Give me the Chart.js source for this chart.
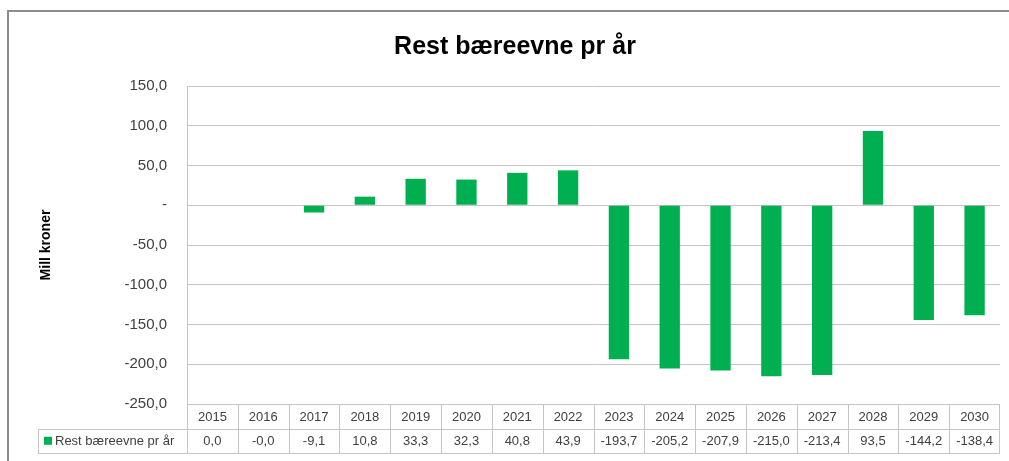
<!DOCTYPE html>
<html>
<head>
<meta charset="utf-8">
<title>Rest bæreevne pr år</title>
<script src="https://cdn.jsdelivr.net/npm/chart.js@4/dist/chart.umd.min.js"></script>
<style>
  html, body { margin: 0; padding: 0; background: #fff; }
  #wrap { width: 1009px; height: 461px; }
</style>
</head>
<body>
<div id="wrap"><canvas id="chart" width="1009" height="461"></canvas></div>
<script>
/* ---------- data ---------- */
const years = ['2015', '2016', '2017', '2018', '2019', '2020', '2021', '2022',
               '2023', '2024', '2025', '2026', '2027', '2028', '2029', '2030'];
const restValues = [0.0, -0.0, -9.1, 10.8, 33.3, 32.3, 40.8, 43.9,
                    -193.7, -205.2, -207.9, -215.0, -213.4, 93.5, -144.2, -138.4];
const seriesName = 'Rest bæreevne pr år';
const yMin = -250, yMax = 150, yStep = 50;

const GREEN = '#00B050';
const GRID = '#c6c6c6';
const TEXT = '#404040';
const FONT = "'Liberation Sans', Arial, sans-serif";

function fmt(v) {
  if (Math.abs(v) < 0.05) return (Object.is(v, -0) ? '-0,0' : '0,0');
  return v.toFixed(1).replace('.', ',');
}

// white background + outer frame
const frame = {
  id: 'frame',
  beforeDraw(chart) {
    const c = chart.ctx;
    c.save();
    c.fillStyle = '#fff';
    c.fillRect(0, 0, chart.width, chart.height);
    c.strokeStyle = '#8c8c8c';
    c.lineWidth = 2;
    c.beginPath();
    c.moveTo(8, chart.height);
    c.lineTo(8, 11);
    c.lineTo(chart.width, 11);
    c.stroke();
    c.restore();
  }
};

// data table under the plot area
const dataTable = {
  id: 'dataTable',
  afterDraw(chart) {
    const c = chart.ctx;
    const x = chart.scales.x;
    const area = chart.chartArea;
    const rowH = 24.5;
    const top = area.bottom;
    const mid = top + rowH;
    const bot = mid + rowH;
    const colW = (area.right - area.left) / years.length;
    const legendLeft = 38;

    c.save();
    c.strokeStyle = GRID;
    c.lineWidth = 1;
    c.beginPath();
    // horizontal lines
    c.moveTo(area.left, top + 0.5); c.lineTo(area.right, top + 0.5);
    c.moveTo(legendLeft, Math.round(mid) + 0.5); c.lineTo(area.right, Math.round(mid) + 0.5);
    c.moveTo(legendLeft, Math.round(bot) + 0.5); c.lineTo(area.right, Math.round(bot) + 0.5);
    // vertical lines
    c.moveTo(legendLeft + 0.5, Math.round(mid)); c.lineTo(legendLeft + 0.5, Math.round(bot));
    years.forEach((y, i) => {
      const xl = Math.round(x.getPixelForValue(i) - colW / 2) + 0.5;
      c.moveTo(xl, top); c.lineTo(xl, Math.round(bot));
    });
    c.moveTo(Math.round(area.right) - 0.5, top); c.lineTo(Math.round(area.right) - 0.5, Math.round(bot));
    // left axis line through plot
    c.moveTo(Math.round(area.left) + 0.5, area.top); c.lineTo(Math.round(area.left) + 0.5, top);
    c.stroke();

    c.fillStyle = TEXT;
    c.font = '13px ' + FONT;
    c.textAlign = 'center';
    c.textBaseline = 'middle';
    years.forEach((y, i) => {
      const cx = x.getPixelForValue(i);
      c.fillText(y, cx, top + rowH / 2 + 1);
      c.fillText(fmt(restValues[i]), cx, mid + rowH / 2 + 1);
    });

    // legend key
    c.fillStyle = GREEN;
    c.fillRect(legendLeft + 6, mid + rowH / 2 - 4, 8, 8);
    c.fillStyle = TEXT;
    c.textAlign = 'left';
    c.fillText(seriesName, legendLeft + 17, mid + rowH / 2 + 1);
    c.restore();
  }
};

new Chart(document.getElementById('chart'), {
  type: 'bar',
  data: {
    labels: years,
    datasets: [{
      label: seriesName,
      data: restValues,
      backgroundColor: GREEN,
      borderWidth: 0,
      categoryPercentage: 1,
      barPercentage: 0.4
    }]
  },
  options: {
    responsive: false,
    animation: false,
    layout: { padding: { left: 30, right: 9, top: 0, bottom: 57 } },
    plugins: {
      legend: { display: false },
      tooltip: { enabled: false },
      title: {
        display: true,
        text: 'Rest bæreevne pr år',
        color: '#000',
        font: { family: FONT, size: 25, weight: 'bold' },
        padding: { top: 32, bottom: 24 }
      }
    },
    scales: {
      x: { display: false },
      y: {
        min: yMin,
        max: yMax,
        afterFit: s => { s.width = 157; },
        border: { display: false },
        grid: { color: GRID, drawTicks: false },
        ticks: {
          stepSize: yStep,
          color: TEXT,
          padding: 20,
          font: { family: FONT, size: 15 },
          callback: v => v === 0 ? '-' : fmt(v)
        },
        title: {
          display: true,
          text: 'Mill kroner',
          color: '#000',
          font: { family: FONT, size: 14, weight: 'bold' },
          padding: { top: 8, bottom: 0 }
        }
      }
    }
  },
  plugins: [frame, dataTable]
});
</script>
</body>
</html>
